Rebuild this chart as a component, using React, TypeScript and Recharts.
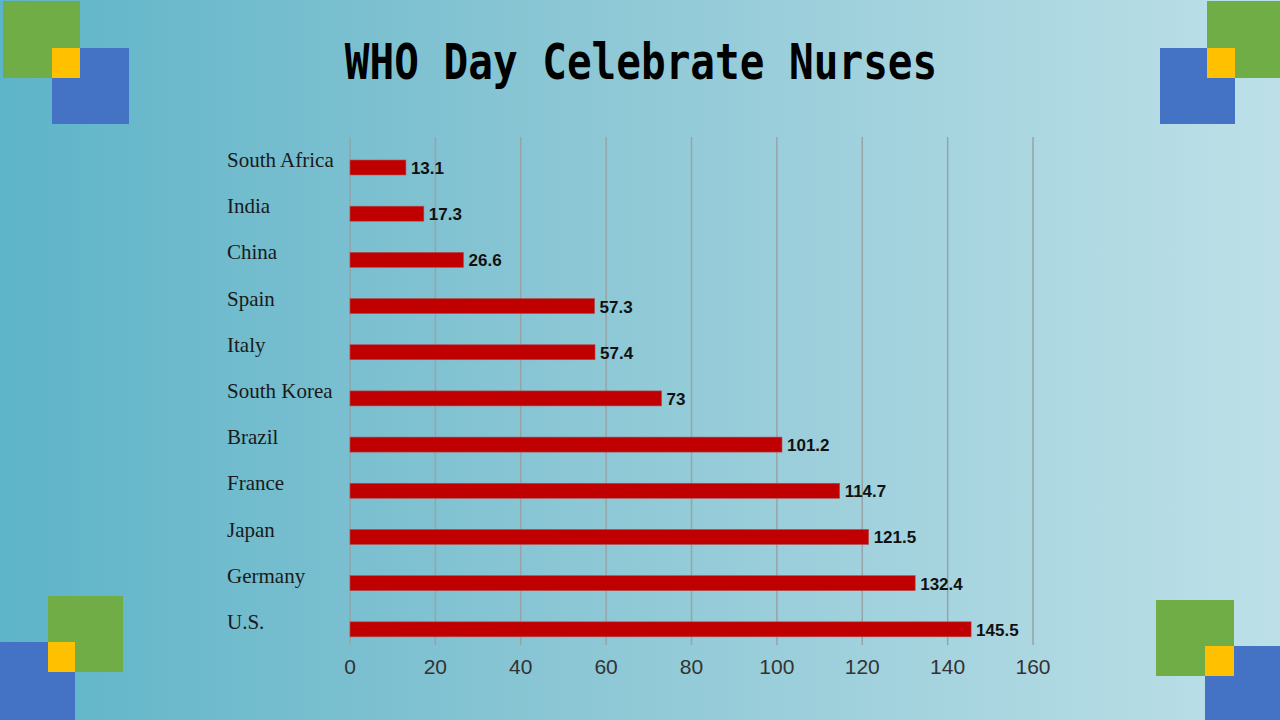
import { BarChart, Bar, XAxis, YAxis, CartesianGrid, LabelList } from "recharts";

const countries = [
  "South Africa",
  "India",
  "China",
  "Spain",
  "Italy",
  "South Korea",
  "Brazil",
  "France",
  "Japan",
  "Germany",
  "U.S.",
];
const nurses = [13.1, 17.3, 26.6, 57.3, 57.4, 73, 101.2, 114.7, 121.5, 132.4, 145.5];
const xTicks = [0, 20, 40, 60, 80, 100, 120, 140, 160];

const data = countries.map((name, i) => ({ name, value: nurses[i] }));

const GREEN = "#70AD47";
const BLUE = "#4472C4";
const YELLOW = "#FFC000";
const BAR_SHIFT = 7;

function Box({ x, y, w, h, c }: { x: number; y: number; w: number; h: number; c: string }) {
  return <div style={{ position: "absolute", left: x, top: y, width: w, height: h, background: c }} />;
}

function CountryTick(props: any) {
  const { y, payload } = props;
  return (
    <text x={227} y={y + 7} textAnchor="start" fontFamily="'Liberation Serif', serif" fontSize={21} fill="#1a1a1a">
      {payload.value}
    </text>
  );
}

function ShiftedBar(props: any) {
  const { x, y, width, height } = props;
  return <rect x={x} y={y + BAR_SHIFT} width={width} height={height} fill="#C00000" stroke="#b05050" strokeWidth={0.6} />;
}

function ValueLabel(props: any) {
  const { x, y, width, height, value } = props;
  return (
    <text
      x={x + width + 5}
      y={y + height / 2 + BAR_SHIFT + 1}
      dominantBaseline="central"
      fontFamily="'Liberation Sans', Arial, sans-serif"
      fontWeight="bold"
      fontSize={17}
      fill="#111"
    >
      {value}
    </text>
  );
}

export default function App() {
  return (
    <div
      style={{
        position: "absolute",
        left: 0,
        top: 0,
        width: 1280,
        height: 720,
        overflow: "hidden",
        background: "linear-gradient(to right, #5EB4C8 0%, #8CC7D5 45%, #BDE0E8 100%)",
      }}
    >
      {/* corner decorations */}
      <Box x={3} y={1} w={77} h={77} c={GREEN} />
      <Box x={52} y={48} w={77} h={76} c={BLUE} />
      <Box x={52} y={48} w={28} h={30} c={YELLOW} />

      <Box x={1207} y={1} w={73} h={77} c={GREEN} />
      <Box x={1160} y={48} w={75} h={76} c={BLUE} />
      <Box x={1207} y={48} w={28} h={30} c={YELLOW} />

      <Box x={48} y={596} w={75} h={76} c={GREEN} />
      <Box x={0} y={642} w={75} h={78} c={BLUE} />
      <Box x={48} y={642} w={27} h={30} c={YELLOW} />

      <Box x={1156} y={600} w={78} h={76} c={GREEN} />
      <Box x={1205} y={646} w={75} h={74} c={BLUE} />
      <Box x={1205} y={646} w={29} h={30} c={YELLOW} />

      <div
        style={{
          position: "absolute",
          left: 0,
          top: 36,
          width: 1282,
          textAlign: "center",
          fontFamily: "'DejaVu Sans Mono', monospace",
          fontWeight: "bold",
          fontSize: 41,
          lineHeight: "52px",
          color: "#000",
          transform: "scaleY(1.22)",
        }}
      >
        WHO Day Celebrate Nurses
      </div>

      <div style={{ position: "absolute", left: 0, top: 0 }}>
        <BarChart
          width={1280}
          height={720}
          data={data}
          layout="vertical"
          margin={{ top: 137, right: 247, bottom: 35, left: 220 }}
          barSize={15}
        >
          <CartesianGrid horizontal={false} stroke="#98a3a8" strokeWidth={1.5} />
          <XAxis
            type="number"
            domain={[0, 160]}
            ticks={xTicks}
            axisLine={false}
            tickLine={false}
            height={40}
            tick={{ fill: "#333", fontSize: 21, fontFamily: "'Liberation Sans', Arial, sans-serif" }}
            tickMargin={8}
          />
          <YAxis
            type="category"
            dataKey="name"
            width={130}
            axisLine={false}
            tickLine={false}
            tick={<CountryTick />}
          />
          <Bar dataKey="value" shape={<ShiftedBar />} isAnimationActive={false}>
            <LabelList dataKey="value" content={<ValueLabel />} />
          </Bar>
        </BarChart>
      </div>
    </div>
  );
}
